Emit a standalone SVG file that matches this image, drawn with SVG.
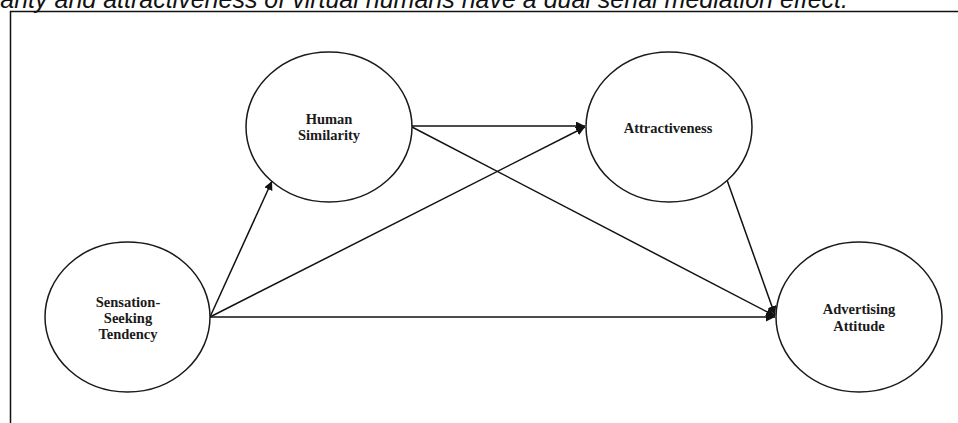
<svg xmlns="http://www.w3.org/2000/svg" width="958" height="423" viewBox="0 0 958 423">
<defs>
<style>
.node{fill:#fff;stroke:#1a1a1a;stroke-width:1.5}
.lbl{font-family:"Liberation Serif","Times New Roman",serif;font-weight:bold;font-size:14.5px;fill:#1a1a1a;text-anchor:middle}
.edge{stroke:#111;stroke-width:1.5;fill:none;marker-end:url(#ah)}
.cap{font-family:"Liberation Sans",Arial,sans-serif;font-style:italic;font-size:25px;fill:#111}
</style>
<marker id="ah" viewBox="0 0 10 10" refX="10" refY="5" markerWidth="6" markerHeight="6" markerUnits="strokeWidth" orient="auto">
<path d="M0,0 L10,5 L0,10 z" fill="#111"/>
</marker>
</defs>
<rect width="958" height="423" fill="#fff"/>
<text class="cap" x="848" y="7.5" text-anchor="end">larity and attractiveness of virtual humans have a dual serial mediation effect.</text>
<path d="M10.5,423 V11.5 H958" fill="none" stroke="#111" stroke-width="1.5"/>
<g id="connectors">
<line class="edge" x1="210" y1="317" x2="272" y2="181"/>
<line class="edge" x1="210" y1="317" x2="585" y2="127"/>
<line class="edge" x1="210" y1="317" x2="775" y2="317"/>
<line class="edge" x1="412" y1="126" x2="585" y2="126"/>
<line class="edge" x1="412" y1="127" x2="775" y2="316"/>
<line class="edge" x1="727" y1="180" x2="775" y2="315"/>
</g>
<g id="sensation">
<ellipse class="node" cx="127.5" cy="317" rx="82.5" ry="75"/>
<text class="lbl" x="128" y="307">Sensation-</text>
<text class="lbl" x="128" y="323">Seeking</text>
<text class="lbl" x="128" y="339">Tendency</text>
</g>
<g id="human">
<ellipse class="node" cx="329" cy="127" rx="83" ry="75"/>
<text class="lbl" x="329" y="124">Human</text>
<text class="lbl" x="329" y="140">Similarity</text>
</g>
<g id="attract">
<ellipse class="node" cx="669" cy="127" rx="83" ry="75"/>
<text class="lbl" x="668" y="133">Attractiveness</text>
</g>
<g id="advert">
<ellipse class="node" cx="859" cy="317" rx="83" ry="75"/>
<text class="lbl" x="859" y="314">Advertising</text>
<text class="lbl" x="859" y="331">Attitude</text>
</g>
</svg>
